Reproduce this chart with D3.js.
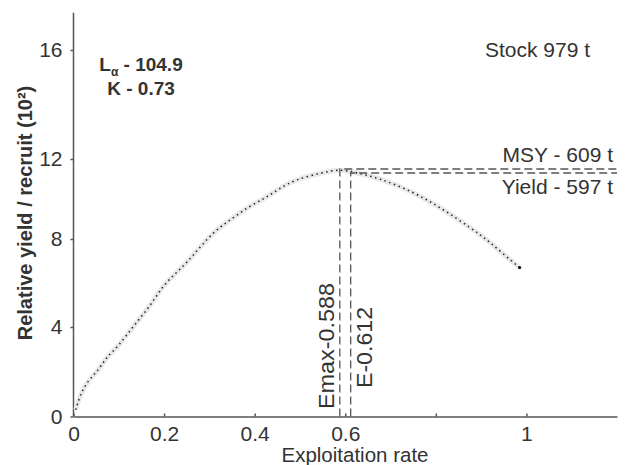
<html><head>
<script src="https://d3js.org/d3.v7.min.js"></script>
<style>
  body { margin: 0; background: #fff; }
  text { font-family: "Liberation Sans", Arial, sans-serif; fill: #333; }
  .axis path, .axis line { stroke: #555; stroke-width: 1.5px; }
  .axis text { font-size: 21px; fill: #333; font-family: "Liberation Sans", Arial, sans-serif; }
  .drop { stroke: #555; stroke-width: 1.3px; stroke-dasharray: 8,4; fill: none; }
</style>
</head>
<body>
<svg id="chart" width="626" height="465"></svg>
<script>

// values
const exploitRate = [0.005, 0.013, 0.029, 0.057, 0.072, 0.098, 0.134, 0.171, 0.2, 0.244, 0.277, 0.314, 0.35, 0.387, 0.424, 0.453, 0.489, 0.548, 0.588, 0.625, 0.673, 0.753, 0.815, 0.878, 0.914, 0.947, 0.985];
const relYield = [0.3, 0.87, 1.54, 2.11, 2.64, 3.11, 4.09, 4.99, 5.98, 6.77, 7.58, 8.46, 9.01, 9.63, 10.05, 10.5, 10.97, 11.31, 11.5, 11.31, 11.06, 10.33, 9.5, 8.54, 7.95, 7.35, 6.7];
const xTicks = [0, 0.2, 0.4, 0.6, 0.8, 1];
const xTickLabels = ["0", "0.2", "0.4", "0.6", "", "1"];
const yTicks = [0, 4, 8, 12, 16];
const eMax = 0.588, eCur = 0.612;
const msyVal = 11.5, yieldVal = 11.3;

const svg = d3.select("#chart");

// the original axis is not evenly spaced, so the y scale is piecewise
const x = d3.scaleLinear().domain([0, 1.2]).range([73.5, 617]);
const y = d3.scaleLinear().domain([0, 4, 8, 12, 16, 17.37]).range([416.5, 327, 239, 159, 50, 12.7]);

// axes
svg.append("g").attr("class", "axis")
  .attr("transform", "translate(0," + y(0) + ")")
  .call(d3.axisBottom(x).tickValues(xTicks).tickSize(-3).tickSizeOuter(0)
    .tickFormat((d, i) => xTickLabels[i]))
  .call(g => g.selectAll("text").attr("dy", "1.0em"));

svg.append("g").attr("class", "axis")
  .attr("transform", "translate(" + x(0) + ",0)")
  .call(d3.axisLeft(y).tickValues(yTicks).tickSize(3).tickSizeOuter(0).tickPadding(8))
  .call(g => g.select(".domain").attr("d", "M0," + y(0) + "V" + y(17.37)));

// curve: grey halo then dotted line
const line = d3.line().x((d, i) => x(exploitRate[i])).y(d => y(d)).curve(d3.curveBasis);
svg.append("path").datum(relYield).attr("d", line)
  .attr("fill", "none").attr("stroke", "#e8e8e8").attr("stroke-width", 5);
svg.append("path").datum(relYield).attr("d", line)
  .attr("fill", "none").attr("stroke", "#222").attr("stroke-width", 1.5)
  .attr("stroke-dasharray", "1.5,3.5");
svg.append("circle").attr("cx", x(exploitRate[exploitRate.length - 1]))
  .attr("cy", y(relYield[relYield.length - 1])).attr("r", 1.6).attr("fill", "#111");

// reference lines
const xEnd = x(1.2);
svg.append("path").attr("class", "drop")
  .attr("d", "M" + x(eMax) + "," + y(0) + "V" + y(msyVal) + "H" + xEnd);
svg.append("path").attr("class", "drop")
  .attr("d", "M" + x(eCur) + "," + y(0) + "V" + y(yieldVal) + "H" + xEnd);

// labels
svg.append("text").attr("transform", "translate(32,213) rotate(-90)")
  .attr("text-anchor", "middle").style("font-size", "20px").style("font-weight", "bold")
  .text("Relative yield / recruit (10²)");

svg.append("text").attr("x", 355).attr("y", 462).attr("text-anchor", "middle")
  .style("font-size", "20.5px").text("Exploitation rate");

const la = svg.append("text").attr("x", 141).attr("y", 71).attr("text-anchor", "middle")
  .style("font-size", "19px").style("font-weight", "bold");
la.append("tspan").text("L");
la.append("tspan").attr("dy", 5).style("font-size", "12px").text("α");
la.append("tspan").attr("dy", -5).text(" - 104.9");

svg.append("text").attr("x", 141).attr("y", 95).attr("text-anchor", "middle")
  .style("font-size", "19px").style("font-weight", "bold").text("K - 0.73");

svg.append("text").attr("x", 485).attr("y", 57).style("font-size", "21px").text("Stock 979 t");

svg.append("text").attr("x", 613).attr("y", 162).attr("text-anchor", "end")
  .style("font-size", "21px").text("MSY - 609 t");
svg.append("text").attr("x", 613).attr("y", 194).attr("text-anchor", "end")
  .style("font-size", "21px").text("Yield - 597 t");

svg.append("text").attr("transform", "translate(334,409) rotate(-90)")
  .attr("textLength", 126).attr("lengthAdjust", "spacingAndGlyphs")
  .style("font-size", "22px").text("Emax-0.588");
svg.append("text").attr("transform", "translate(372,388) rotate(-90)")
  .attr("textLength", 81).attr("lengthAdjust", "spacingAndGlyphs")
  .style("font-size", "22px").text("E-0.612");

</script>
</body>
</html>
